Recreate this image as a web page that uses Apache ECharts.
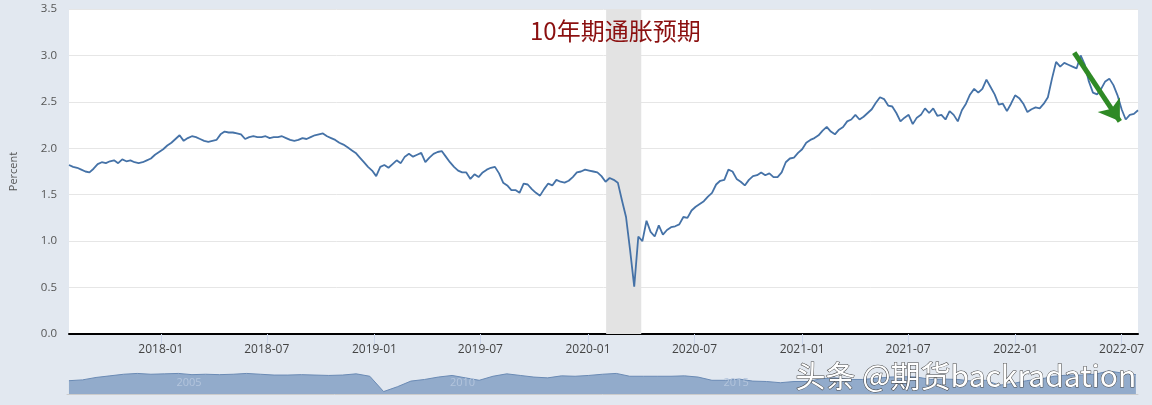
<!DOCTYPE html>
<html><head><meta charset="utf-8">
<script src="https://cdn.jsdelivr.net/npm/echarts@6/dist/echarts.min.js"></script>
<style>html,body{margin:0;padding:0;background:#e2e8f0;}#c{width:1152px;height:405px;}</style>
</head><body><div id="c"></div>
<script>
// Weekly 10-year breakeven inflation (T10YIE), starting 2017-07-28, one value per week
const startDate = [2017, 6, 28];
const stepDays = 7;
const t10yie2017 = [1.82,1.80,1.79,1.77,1.75,1.74,1.78,1.83,1.85,1.84,1.86,1.87,1.84,1.88,1.86,1.87,1.85,1.84,1.85,1.87,1.89,1.93,1.96];
const t10yie2018 = [1.99,2.03,2.06,2.10,2.14,2.08,2.11,2.13,2.12,2.10,2.08,2.07,2.08,2.09,2.15,2.18,2.17,2.17,2.16,2.15,2.10,2.12,2.13,2.12,2.12,2.13,2.11,2.12,2.12,2.13,2.11,2.09,2.08,2.09,2.11,2.10,2.12,2.14,2.15,2.16,2.13,2.11,2.09,2.06,2.04,2.01,1.98,1.95,1.90,1.85,1.80,1.76];
const t10yie2019 = [1.70,1.80,1.82,1.79,1.83,1.87,1.84,1.91,1.94,1.91,1.93,1.95,1.85,1.90,1.94,1.96,1.97,1.91,1.85,1.80,1.76,1.74,1.74,1.67,1.72,1.69,1.74,1.77,1.79,1.80,1.73,1.63,1.60,1.55,1.55,1.52,1.62,1.61,1.56,1.52,1.49,1.56,1.62,1.60,1.66,1.64,1.63,1.65,1.69,1.74,1.75,1.77];
const t10yie2020 = [1.76,1.75,1.74,1.70,1.64,1.68,1.66,1.63,1.44,1.26,0.90,0.51,1.05,1.00,1.22,1.10,1.05,1.17,1.07,1.12,1.15,1.16,1.18,1.26,1.25,1.33,1.37,1.40,1.43,1.48,1.52,1.61,1.65,1.66,1.77,1.75,1.67,1.64,1.60,1.66,1.70,1.71,1.74,1.71,1.73,1.69,1.69,1.74,1.85,1.89,1.90,1.95];
const t10yie2021 = [1.99,2.06,2.09,2.11,2.14,2.19,2.23,2.18,2.15,2.20,2.23,2.29,2.31,2.36,2.31,2.34,2.38,2.42,2.49,2.55,2.53,2.46,2.45,2.38,2.29,2.33,2.36,2.26,2.33,2.36,2.43,2.38,2.43,2.35,2.36,2.31,2.40,2.36,2.29,2.41,2.48,2.58,2.64,2.60,2.64,2.74,2.66,2.58,2.47,2.48,2.40,2.48,2.57];
const t10yie2022 = [2.54,2.48,2.39,2.42,2.44,2.43,2.48,2.55,2.75,2.93,2.88,2.92,2.90,2.88,2.86,3.00,2.90,2.72,2.60,2.58,2.64,2.72,2.75,2.68,2.57,2.42,2.31,2.36,2.37,2.41];

// Navigator: quarterly values 2003 Q1 .. 2022 Q3
const navStart = [2003, 1, 15];
const navValues = [1.65,1.75,2.05,2.25, 2.45,2.55,2.45,2.50, 2.55,2.40,2.45,2.40, 2.45,2.55,2.45,2.35,
  2.35,2.40,2.35,2.30, 2.35,2.50,2.20,0.30, 0.90,1.60,1.80,2.10, 2.30,2.00,1.70,2.20,
  2.50,2.30,2.10,2.00, 2.25,2.20,2.30,2.45, 2.55,2.20,2.20,2.20, 2.20,2.25,2.10,1.70,
  1.70,1.85,1.60,1.55, 1.40,1.55,1.55,1.90, 2.00,1.80,1.80,1.95, 2.10,2.15,2.10,1.80,
  1.85,1.80,1.60,1.70, 1.10,1.30,1.65,1.85, 2.20,2.35,2.35,2.45, 2.85,2.60,2.40];

const xTickLabels = ['2018-01','2018-07','2019-01','2019-07','2020-01','2020-07','2021-01','2021-07','2022-01','2022-07'];
const navLabels = ['2005','2010','2015'];
const recession = ['2020-02-01','2020-04-01'];
const arrowFrom = ['2022-04-11', 3.03];
const arrowTo = ['2022-06-28', 2.29];
const titleText = '10年期通胀预期';
const yName = 'Percent';
const watermark = '头条 @期货backradation';

function ts(s){ const p = s.split('-').map(Number); return new Date(p[0], p[1]-1, p[2] || 1).getTime(); }
const allVals = [].concat(t10yie2017, t10yie2018, t10yie2019, t10yie2020, t10yie2021, t10yie2022);
const mainData = allVals.map((v,i)=>[new Date(startDate[0], startDate[1], startDate[2] + i*stepDays).getTime(), v]);
const navData = navValues.map((v,i)=>[new Date(navStart[0], navStart[1]-1 + i*3, navStart[2]).getTime(), v]);
const tickVals = xTickLabels.map(s=>ts(s+'-01'));
const navTickVals = navLabels.map(s=>ts(s+'-01-01'));

const chart = echarts.init(document.getElementById('c'), null, {renderer:'canvas'});
const font = 'Open Sans';
chart.setOption({
  backgroundColor:'#e2e8f0',
  animation:false,
  textStyle:{fontFamily:font},
  title:{text:titleText, left:525, top:14, textStyle:{color:'#8b1010', fontSize:24, fontWeight:'normal', fontFamily:'Noto Sans CJK SC'}},
  grid:[
    {left:67, right:14, top:9, bottom:71, show:true, backgroundColor:'#ffffff', borderWidth:0},
    {left:67, right:14, top:369, height:25, show:false}
  ],
  xAxis:[
    {type:'value', gridIndex:0, min:ts('2017-07-28'), max:ts('2022-07-29'),
     axisLine:{show:true, onZero:false, lineStyle:{color:'#000', width:2}},
     axisTick:{show:true, length:11, lineStyle:{color:'#ccd6eb'}, customValues:tickVals},
     axisLabel:{color:'#444', fontSize:12, margin:10, customValues:tickVals, showMinLabel:true, showMaxLabel:true,
       formatter:(v)=>{const d=new Date(v); return d.getFullYear()+'-'+String(d.getMonth()+1).padStart(2,'0');}},
     splitLine:{show:false}},
    {type:'value', gridIndex:1, position:'top', z:10, min:ts('2003-01-02'), max:ts('2022-07-29'),
     axisLine:{show:true, lineStyle:{color:'#cccccc', width:1}},
     axisTick:{show:false},
     axisLabel:{inside:true, margin:8, color:'#b3c4dc', fontSize:11, align:'left', customValues:navTickVals,
       formatter:(v)=>String(new Date(v).getFullYear())},
     splitLine:{show:false}}
  ],
  yAxis:[
    {type:'value', gridIndex:0, min:0, max:3.5, interval:0.5,
     name:yName, nameLocation:'middle', nameGap:50, nameRotate:90,
     nameTextStyle:{color:'#555', fontSize:11},
     axisLine:{show:false}, axisTick:{show:false},
     axisLabel:{color:'#555', fontSize:11.5, margin:12, formatter:(v)=>v.toFixed(1)},
     splitLine:{lineStyle:{color:'#e6e6e6', width:1}}},
    {type:'value', gridIndex:1, min:0, max:3.1, show:false}
  ],
  series:[
    {type:'line', xAxisIndex:0, yAxisIndex:0, data:mainData, showSymbol:false,
     lineStyle:{color:'#4572a7', width:1.8}, z:3,
     markArea:{silent:true, itemStyle:{color:'#e3e3e3'},
       data:[[{xAxis:ts(recession[0])},{xAxis:ts(recession[1])}]]},
     markLine:{silent:true, symbol:['none','arrow'], symbolSize:20, label:{show:false},
       lineStyle:{color:'#2f8a25', width:5, type:'solid', opacity:1},
       data:[[{coord:[ts(arrowFrom[0]), arrowFrom[1]]},{coord:[ts(arrowTo[0]), arrowTo[1]]}]]}
    },
    {type:'line', xAxisIndex:1, yAxisIndex:1, data:navData, showSymbol:false, z:1,
     lineStyle:{color:'#6b8bb5', width:1}, areaStyle:{color:'#92abcb', opacity:1}}
  ],
  graphic:[
    {type:'text', left:795, top:360, z:100,
     style:{text:watermark, fill:'#ffffff', font:'30px "Noto Sans CJK SC"',
       stroke:'#444', lineWidth:1, shadowColor:'rgba(0,0,0,0.7)', shadowBlur:2, shadowOffsetX:2, shadowOffsetY:2}}
  ]
});
</script></body></html>
